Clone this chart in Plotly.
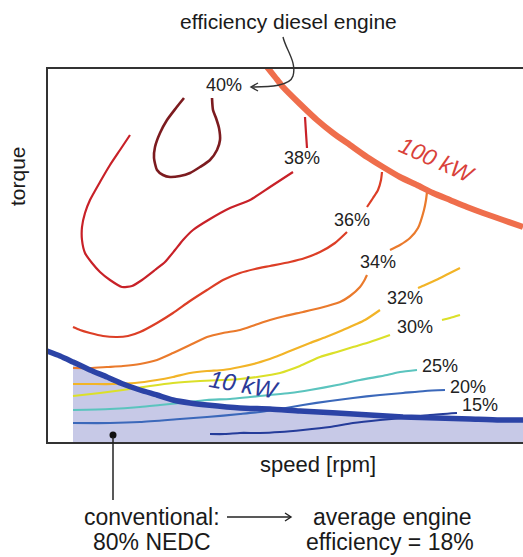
import plotly.graph_objects as go

W, H = 523, 557

# ---- contour data (speed on x, torque on y; plotted in chart units) ----
eff40_x = [184, 176, 167, 160, 155, 154, 157, 163, 170, 180, 190, 200, 210, 217, 220, 219, 216, 213, 212]
eff40_y = [98, 108, 120, 133, 147, 158, 170, 175, 177, 176, 173, 167, 160, 150, 140, 128, 118, 110, 98]

eff38a_x = [130, 120, 110, 100, 90, 85, 82, 82, 85, 92, 100, 110, 122, 132, 142, 155, 165, 175, 183, 193, 210, 230, 250, 270, 293]
eff38a_y = [135, 150, 165, 182, 200, 213, 227, 240, 253, 263, 272, 280, 287, 286, 280, 270, 262, 250, 240, 230, 219, 208, 200, 187, 172]
eff38b_x = [305, 306, 307]
eff38b_y = [117, 133, 148]

eff36a_x = [382, 381, 378, 373, 367]
eff36a_y = [172, 180, 190, 198, 207]
eff36b_x = [347, 335, 320, 305, 290, 270, 255, 240, 223, 207, 190, 173, 157, 140, 128, 117, 103, 90, 80, 73]
eff36b_y = [232, 243, 252, 258, 262, 266, 269, 273, 280, 290, 301, 313, 323, 332, 336, 337, 336, 333, 330, 327]

eff34a_x = [427, 426, 424, 418, 410, 400, 390]
eff34a_y = [192, 200, 210, 228, 238, 245, 250]
eff34b_x = [367, 364, 360, 350, 340, 320, 303, 285, 270, 255, 240, 223, 207, 190, 173, 157, 140, 123, 107, 90, 73]
eff34b_y = [275, 281, 287, 296, 302, 308, 312, 316, 320, 325, 330, 333, 337, 345, 353, 360, 364, 366, 367, 368, 368]

eff32a_x = [460, 448, 436, 425, 418]
eff32a_y = [268, 274, 280, 285, 288]
eff32b_x = [380, 365, 343, 326, 310, 290, 275, 257, 240, 223, 207, 190, 173, 157, 135, 113, 90, 73]
eff32b_y = [310, 320, 330, 337, 343, 351, 357, 363, 367, 370, 371, 373, 377, 380, 383, 384, 384, 384]

eff30a_x = [460, 450, 442]
eff30a_y = [315, 318, 320]
eff30b_x = [390, 370, 353, 337, 320, 300, 280, 257, 240, 223, 200, 173, 150, 123, 100, 73]
eff30b_y = [335, 342, 347, 352, 357, 366, 373, 377, 379, 380, 381, 383, 386, 390, 393, 396]

eff25_x = [417, 400, 387, 360, 337, 310, 290, 270, 250, 230, 207, 180, 160, 140, 110, 73]
eff25_y = [370, 372, 375, 380, 385, 390, 393, 395, 397, 399, 400, 403, 405, 407, 409, 410]

eff20_x = [445, 425, 403, 380, 353, 330, 303, 280, 260, 240, 207, 180, 140, 110, 73]
eff20_y = [390, 391, 393, 395, 398, 401, 405, 409, 412, 414, 417, 419, 422, 423, 423]

eff15_x = [457, 430, 403, 380, 353, 330, 303, 280, 260, 240, 225, 210]
eff15_y = [413, 415, 418, 420, 423, 427, 430, 432, 433, 433, 434, 434]

kw10_x = [47, 60, 73, 90, 107, 123, 140, 157, 173, 190, 207, 240, 270, 300, 337, 370, 403, 437, 470, 500, 523]
kw10_y = [351, 356, 362, 370, 377, 384, 390, 395, 400, 403, 405, 408, 409, 411, 413, 415, 417, 418, 419, 420, 420]

kw100_x = [267, 275, 283, 300, 317, 333, 350, 367, 383, 400, 417, 433, 450, 467, 483, 503, 523]
kw100_y = [67, 77, 87, 104, 120, 133, 145, 157, 167, 177, 185, 193, 200, 207, 213, 220, 227]

nedc_dot_x = [113]
nedc_dot_y = [435]

labels_text = ["40%", "38%", "36%", "34%", "32%", "30%", "25%", "20%", "15%"]
labels_x = [224, 302, 352, 378, 405, 415, 440, 468, 480]
labels_y = [85, 158, 220, 262, 298, 327, 366, 387, 405]

X0, X1, Y0, Y1 = 48, 523, 69, 442
FONT = "Liberation Sans, Arial, Helvetica, sans-serif"


def pxp(x):
    return x / W


def pyp(y):
    return 1 - y / H


fig = go.Figure()

# shaded NEDC region under 10 kW line
fx = [x for x in kw10_x if x >= 73]
fy = [y for x, y in zip(kw10_x, kw10_y) if x >= 73]
fig.add_trace(go.Scatter(x=fx + [fx[-1], fx[0]], y=fy + [Y1, Y1], fill="toself",
                         fillcolor="#c7c9e7", line=dict(width=0), mode="lines",
                         hoverinfo="skip"))


def add_line(xs, ys, color, width=2.2):
    fig.add_trace(go.Scatter(x=xs, y=ys, mode="lines",
                             line=dict(color=color, width=width, shape="spline", smoothing=0.6)))


add_line(eff15_x, eff15_y, "#253c9a")
add_line(eff20_x, eff20_y, "#3b68ba")
add_line(eff25_x, eff25_y, "#5bc4be")
add_line(eff30a_x, eff30a_y, "#dbe029")
add_line(eff30b_x, eff30b_y, "#dbe029")
add_line(eff32a_x, eff32a_y, "#f2b427")
add_line(eff32b_x, eff32b_y, "#f2b427")
add_line(eff34a_x, eff34a_y, "#ea7a2c")
add_line(eff34b_x, eff34b_y, "#ea7a2c")
add_line(eff36a_x, eff36a_y, "#dc3e26")
add_line(eff36b_x, eff36b_y, "#dc3e26")
add_line(eff38a_x, eff38a_y, "#c82128")
add_line(eff38b_x, eff38b_y, "#c82128")
add_line(eff40_x, eff40_y, "#7c1b1f", 2.6)
add_line(kw10_x, kw10_y, "#2b43a6", 5.5)
add_line(kw100_x, kw100_y, "#ef6e4c", 6)

fig.add_trace(go.Scatter(x=nedc_dot_x, y=nedc_dot_y, mode="markers",
                         marker=dict(color="#111", size=7)))

annotations = []
for t, x, y in zip(labels_text, labels_x, labels_y):
    annotations.append(dict(x=x, y=y, xref="x", yref="y", text=t, showarrow=False,
                            font=dict(family=FONT, size=18, color="#222")))

annotations.append(dict(x=437, y=160, xref="x", yref="y", text="100 kW", showarrow=False,
                        textangle=24, font=dict(family=FONT, size=23, color="#d9413a", style="italic")))
annotations.append(dict(x=244, y=384, xref="x", yref="y", text="10 kW", showarrow=False,
                        textangle=10, font=dict(family=FONT, size=24, color="#2b3b99", style="italic")))


def ptext(x, y, t, size=23, angle=0):
    annotations.append(dict(x=pxp(x), y=pyp(y), xref="paper", yref="paper", text=t,
                            showarrow=False, textangle=angle, xanchor="center", yanchor="middle",
                            font=dict(family=FONT, size=size, color="#1a1a1a")))


ptext(288, 21, "efficiency diesel engine", 21)
ptext(318, 464, "speed [rpm]", 22)
ptext(18, 176, "torque", 21, -90)
ptext(152, 517, "conventional:", 23)
ptext(152, 542, "80% NEDC", 23)
ptext(392, 517, "average engine", 23)
ptext(390, 542, "efficiency = 18%", 23)


def path(points):
    s = f"M {pxp(points[0][0])} {pyp(points[0][1])}"
    for p in points[1:]:
        s += f" L {pxp(p[0])} {pyp(p[1])}"
    return s


def cpath(p0, c1, c2, p1, c3, c4, p2):
    f = lambda p: f"{pxp(p[0])} {pyp(p[1])}"
    return f"M {f(p0)} C {f(c1)}, {f(c2)}, {f(p1)} C {f(c3)}, {f(c4)}, {f(p2)}"


shapes = [
    dict(type="path", xref="paper", yref="paper",
         path=cpath((283, 37), (286, 50), (297, 62), (293, 76), (290, 86), (270, 87), (252, 87)),
         line=dict(color="#333", width=1.4)),
    dict(type="path", xref="paper", yref="paper", path=path([(258, 83), (251, 87), (258, 91)]),
         line=dict(color="#333", width=1.4)),
    dict(type="path", xref="paper", yref="paper", path=path([(113, 437), (113, 500)]),
         line=dict(color="#222", width=1.5)),
    dict(type="path", xref="paper", yref="paper", path=path([(227, 517), (291, 517)]),
         line=dict(color="#222", width=1.4)),
    dict(type="path", xref="paper", yref="paper", path=path([(285, 513), (291, 517), (285, 521)]),
         line=dict(color="#222", width=1.4)),
]

fig.update_layout(
    width=W, height=H,
    margin=dict(l=0, r=0, t=0, b=0, pad=0),
    paper_bgcolor="white", plot_bgcolor="white",
    showlegend=False,
    annotations=annotations,
    shapes=shapes,
    xaxis=dict(domain=[X0 / W, 1], range=[X0, X1], showgrid=False, zeroline=False,
               showticklabels=False, ticks="", showline=True, mirror=True,
               linecolor="#333", linewidth=1.5),
    yaxis=dict(domain=[1 - Y1 / H, 1 - Y0 / H], range=[Y1, Y0], showgrid=False, zeroline=False,
               showticklabels=False, ticks="", showline=True, mirror=False,
               linecolor="#333", linewidth=1.5),
)

fig.write_html("out.html", config={"displayModeBar": False},
               post_script="document.body.style.margin='0';document.body.style.overflow='hidden';")
